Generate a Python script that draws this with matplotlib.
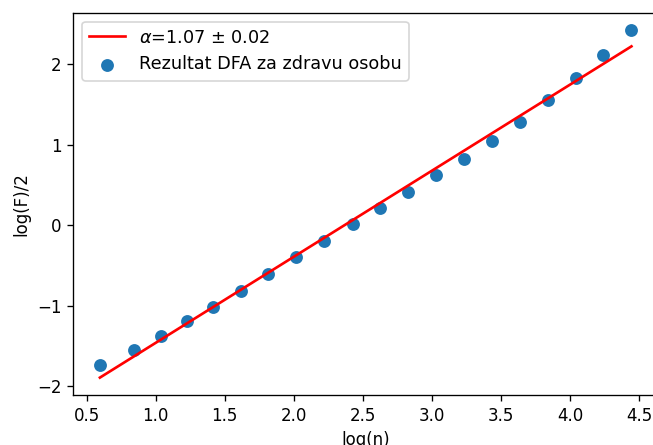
import matplotlib
matplotlib.use('Agg')
import matplotlib.pyplot as plt
import numpy as np

# DFA results
log_n = [0.596, 0.843, 1.038, 1.227, 1.415, 1.618, 1.816, 2.019, 2.220, 2.425,
         2.623, 2.826, 3.029, 3.229, 3.432, 3.635, 3.838, 4.041, 4.241, 4.444]
log_f_half = [-1.741, -1.554, -1.383, -1.191, -1.016, -0.813, -0.604, -0.395, -0.200, 0.009,
              0.209, 0.413, 0.621, 0.825, 1.050, 1.288, 1.559, 1.830, 2.113, 2.425]

# linear fit
ALPHA = 1.07
ALPHA_ERR = 0.02
INTERCEPT = -2.532

x = np.array(log_n)
fit = ALPHA * x + INTERCEPT

fig = plt.figure(figsize=(653 / 120, 445 / 120), dpi=120)
ax = fig.add_axes([0.1123, 0.1124, 0.8954, 0.859])

ax.plot(x, fit, color='red', linewidth=1.6, label=rf'$\alpha$={ALPHA:.2f} ± {ALPHA_ERR:.2f}')
ax.scatter(log_n, log_f_half, s=45, label='Rezultat DFA za zdravu osobu')

ax.set_xlabel('log(n)')
ax.set_ylabel('log(F)/2')
ax.set_xticks(np.arange(0.5, 4.51, 0.5))
ax.set_yticks([-2, -1, 0, 1, 2])
ax.legend(loc='upper left', fontsize=10.6)

plt.savefig('out.png', dpi=120)
